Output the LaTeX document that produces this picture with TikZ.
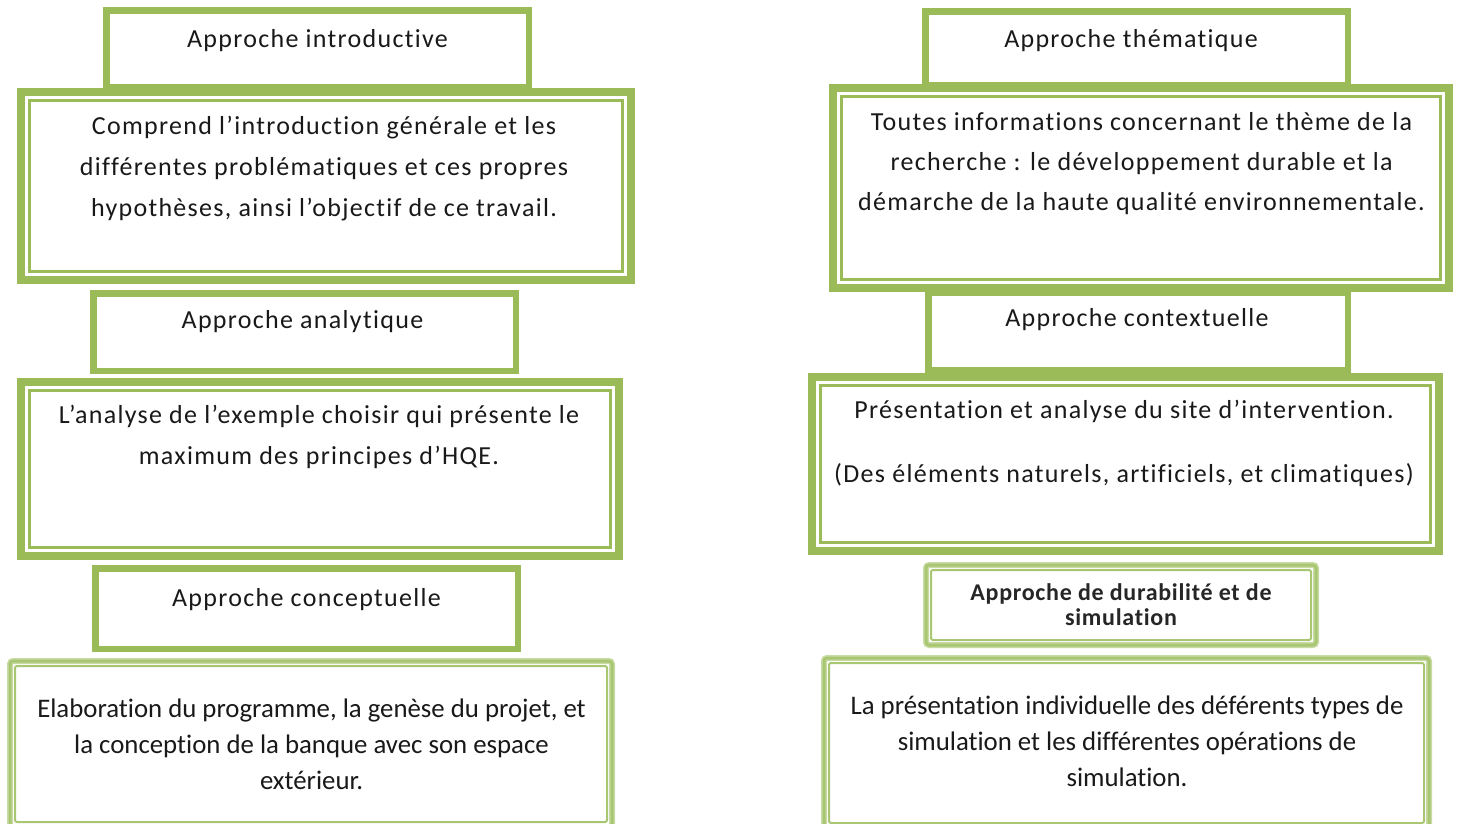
\documentclass[tikz,border=0pt]{standalone}
\usepackage{fontspec}
\setmainfont{Carlito}
\newfontfamily\lightfont[LetterSpace=5, Ligatures={NoCommon}]{Carlito}
\newfontfamily\plainfont[Ligatures={NoCommon}]{Carlito}
\newfontfamily\durfont[LetterSpace=3, Ligatures={NoCommon}]{Carlito}
\usepackage{tikz}
\usetikzlibrary{positioning}
\definecolor{hqegreen}{HTML}{9BBB59}
\definecolor{softgreen}{HTML}{C9DBA5}
\definecolor{midgreen}{HTML}{A9C672}

\begin{document}
\begin{tikzpicture}[x=1pt, y=-1pt,
    titlebox/.style = {rectangle, draw=hqegreen, fill=white, line width=6.5pt, inner sep=0pt, outer sep=0pt},
    bigbox/.style = {titlebox, line width=8pt},
    softbox/.style = {rectangle, draw=softgreen, double=midgreen, line width=1.5pt, double distance=3pt, fill=white, rounded corners=3pt, inner sep=0pt, outer sep=0pt},
    inline/.style = {draw=hqegreen, line width=2.5pt},
    softline/.style = {draw=midgreen, line width=2pt, rounded corners=2pt},
    thintext/.style = {font={\lightfont\fontsize{26}{41}\selectfont}, align=center, text=black!90, inner sep=0pt},
    thicktext/.style = {font={\plainfont\fontsize{26.8}{36}\selectfont}, align=center, text=black!90, inner sep=0pt},
    durtext/.style = {font={\durfont\bfseries\fontsize{24}{25}\selectfont}, align=center, text=black!85, inner sep=0pt}]
        \useasboundingbox (0,0) rectangle (1458,823);
        \clip (0,0) rectangle (1458,823);
        % colonne gauche
        \node[titlebox, minimum width=422.5pt, minimum height=76.5pt] (tIntro) at (317.5,48.5) {};
        \node[thintext] (tIntroText) at (317.5,41) {Approche introductive};
        \node[bigbox, minimum width=610pt, minimum height=188pt] (bIntro) at (326,186) {};
        \node[thintext] (bIntroText) at (324,169) {Comprend l’introduction générale et les\\différentes problématiques et ces propres\\hypothèses, ainsi l’objectif de ce travail.};
        \node[titlebox, minimum width=422.5pt, minimum height=77.5pt] (tAnaly) at (304.5,332) {};
        \node[thintext] (tAnalyText) at (302.5,322) {Approche analytique};
        \node[bigbox, minimum width=598pt, minimum height=174pt] (bAnaly) at (320,469) {};
        \node[thintext] (bAnalyText) at (319,437) {L’analyse de l’exemple choisir qui présente le\\maximum des principes d’HQE.};
        \node[titlebox, minimum width=422.5pt, minimum height=80.5pt] (tConc) at (306.5,608.5) {};
        \node[thintext] (tConcText) at (306.5,600) {Approche conceptuelle};
        \node[softbox, minimum width=602pt, minimum height=166pt] (bConc) at (311,744) {};
        \node[thicktext] (bConcText) at (311.5,744) {Elaboration du programme, la genèse du projet, et\\la conception de la banque avec son espace\\extérieur.};
        % colonne droite
        \node[titlebox, minimum width=422.5pt, minimum height=73.5pt] (tThem) at (1136.5,48) {};
        \node[thintext] (tThemText) at (1131,41) {Approche thématique};
        \node[bigbox, minimum width=616pt, minimum height=200pt] (bThem) at (1141,188) {};
        \node[thintext, font={\lightfont\fontsize{26}{40}\selectfont}] (bThemText) at (1141.5,164) {Toutes informations concernant le thème de la\\recherche : le développement durable et la\\démarche de la haute qualité environnementale.};
        \node[titlebox, minimum width=419.5pt, minimum height=77.5pt] (tCont) at (1138,331) {};
        \node[thintext] (tContText) at (1137,320) {Approche contextuelle};
        \node[bigbox, minimum width=627pt, minimum height=174pt] (bCont) at (1125.5,464) {};
        \node[thintext] (bContText) at (1124,443) {Présentation et analyse du site d’intervention.\\[23pt](Des éléments naturels, artificiels, et climatiques)};
        \node[softbox, minimum width=390pt, minimum height=80pt] (tDur) at (1121,605) {};
        \node[durtext] (tDurText) at (1121,605) {Approche de durabilité et de\\simulation};
        \node[softbox, minimum width=605pt, minimum height=170pt] (bDur) at (1126.5,743) {};
        \node[thicktext] (bDurText) at (1127,741) {La présentation individuelle des déférents types de\\simulation et les différentes opérations de\\simulation.};
        % filets intérieurs
        \foreach \b in {bIntro, bAnaly, bThem, bCont}
            \draw[inline] ([shift={(8.5,8.5)}]\b.north west) rectangle ([shift={(-8.5,-8.5)}]\b.south east);
        \foreach \b in {bConc, tDur, bDur}
            \draw[softline] ([shift={(5,5)}]\b.north west) rectangle ([shift={(-5,-5)}]\b.south east);
    \end{tikzpicture}
\end{document}
